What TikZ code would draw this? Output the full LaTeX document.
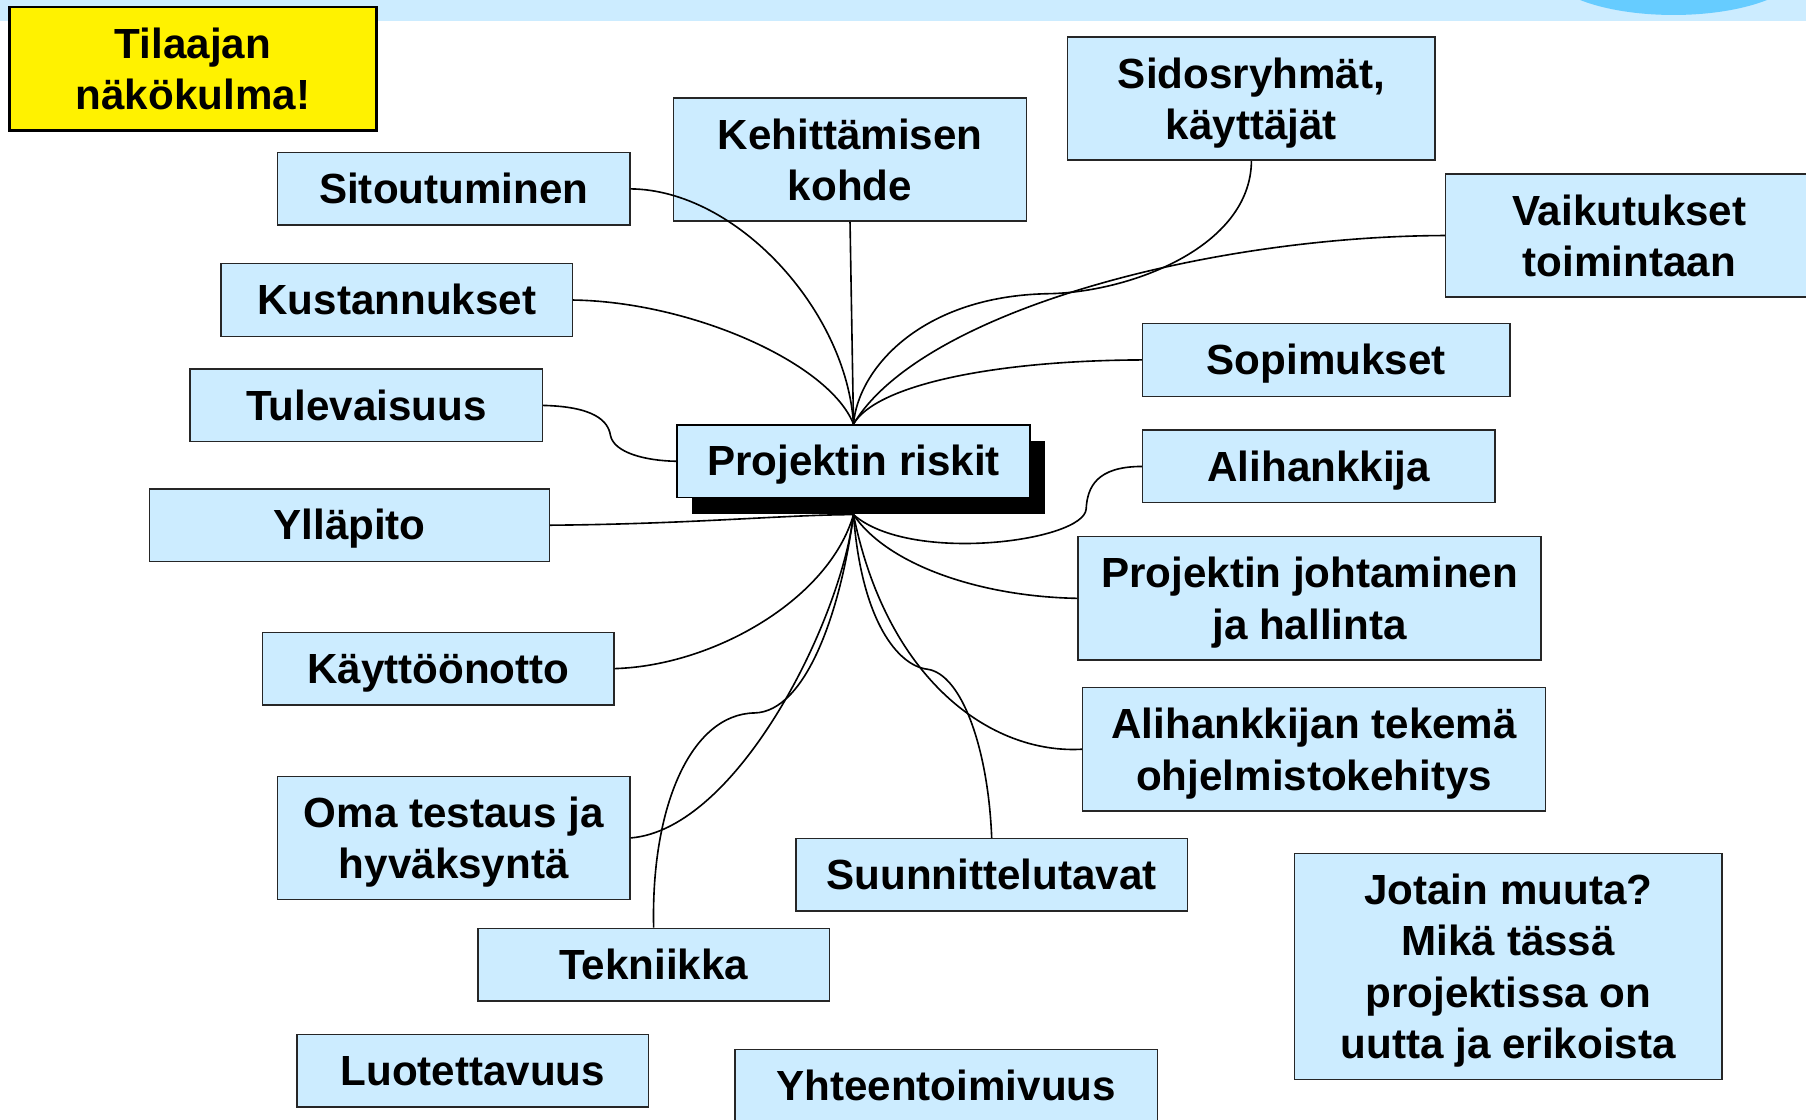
\documentclass[tikz,border=0pt]{standalone}
\usepackage{fontspec}
\setmainfont{Liberation Sans}
\usetikzlibrary{shadows}
\definecolor{boxblue}{HTML}{CCECFF}
\definecolor{bubbleblue}{HTML}{66CCFF}
\pgfdeclarelayer{front}
\pgfsetlayers{main,front}
\newcommand{\tstrut}{\rule[-0.212em]{0pt}{1.117em}}
\tikzset{
  riskbox/.style={draw=black!85, line width=0.6pt, fill=boxblue, align=center, inner sep=0pt,
    font=\fontsize{18.3}{22.3}\selectfont\bfseries},
  oneline/.style={riskbox, execute at begin node=\tstrut, execute at end node=\tstrut},
  multiline/.style={riskbox, text depth=0pt},
  boxsize/.style 2 args={minimum width=#1*0.5pt, minimum height=#2*0.5pt},
  link/.style={line width=0.7pt},
}
\begin{document}
\begin{tikzpicture}[x=0.5pt,y=-0.5pt]
  \useasboundingbox (0,0) rectangle (1568,972);
  \clip (0,0) rectangle (1568,972);
  % band and bubble at the top edge
  \fill[boxblue] (0,0) rectangle (1568,18);
  \fill[bubbleblue] (1453,-27) ellipse [x radius=110, y radius=40];
  % note box
  \node[multiline, fill=yellow, draw=black, line width=1.2pt, boxsize={319}{107}] (tilaaja) at (167.5,59.5) {Tilaajan\\näkökulma!};
  % centre, kept on the front layer so the shadow hides the curve ends
  \begin{pgfonlayer}{front}
    \node[oneline, draw=black, line width=0.8pt, boxsize={306}{63},
      drop shadow={shadow xshift=6.5pt, shadow yshift=-7pt, fill=black, opacity=1}] (riskit) at (741,400.5) {Projektin riskit};
  \end{pgfonlayer}
  \coordinate (hubS) at ([yshift=-7pt]riskit.south);
  % one-line boxes
  \foreach \name/\x/\y/\w/\txt in {sitout/394/164/306/Sitoutuminen, kust/344.5/260.5/305/Kustannukset,
      sopim/1151.5/312.5/319/Sopimukset, tulev/318/352/306/Tulevaisuus, alih/1145/405/306/Alihankkija,
      yllapito/303.5/456/347/Ylläpito, kaytto/380.5/580.5/305/Käyttöönotto, suunn/861/759.5/340/Suunnittelutavat,
      tekn/567.5/837.5/305/Tekniikka, luot/410.5/929.5/305/Luotettavuus, yhteen/821.5/942.5/367/Yhteentoimivuus}
    { \node[oneline, boxsize={\w}{63}] (\name) at (\x,\y) {\txt}; }
  % boxes with more lines
  \node[multiline, boxsize={306}{107}] (kehitys) at (738,138.5) {Kehittämisen\\kohde};
  \node[multiline, boxsize={319}{107}] (sidos) at (1086.5,85.5) {Sidosryhmät,\\käyttäjät};
  \node[multiline, boxsize={319}{107}] (vaik) at (1414.5,204.5) {Vaikutukset\\toimintaan};
  \node[multiline, boxsize={402}{107}] (johto) at (1137,519.5) {Projektin johtaminen\\ja hallinta};
  \node[multiline, boxsize={402}{107}] (alitek) at (1141,650.5) {Alihankkijan tekemä\\ohjelmistokehitys};
  \node[multiline, boxsize={306}{107}] (testaus) at (394,727.5) {Oma testaus ja\\hyväksyntä};
  \node[multiline, boxsize={371}{196}] (muuta) at (1309.5,839) {Jotain muuta?\\Mikä tässä\\projektissa on\\uutta ja erikoista};
  % curves into the top of the centre box
  \draw[link] (sitout.east) .. controls (640,165) and (735,270) .. (riskit.north);
  \draw[link] (kehitys.south) -- (riskit.north);
  \draw[link] (kust.east) .. controls (600,262) and (720,315) .. (riskit.north);
  \draw[link] (sidos.south) .. controls (1086,215) and (980,254) .. (910,255)
    .. controls (800,257) and (745,320) .. (riskit.north);
  \draw[link] (vaik.west) .. controls (1050,205) and (800,270) .. (riskit.north);
  \draw[link] (sopim.west) .. controls (860,313) and (760,335) .. (riskit.north);
  \draw[link] (tulev.east) .. controls (515,353) and (528,365) .. (530,378)
    .. controls (533,393) and (560,400) .. (riskit.west);
  % curves into the bottom of the shadow
  \draw[link] (yllapito.east) .. controls (600,455) and (680,447) .. (hubS);
  \draw[link] (alih.west) .. controls (952,405) and (944,423) .. (943,442)
    .. controls (941,470) and (790,490) .. (hubS);
  \draw[link] (johto.west) .. controls (850,518) and (770,490) .. (hubS);
  \draw[link] (kaytto.east) .. controls (620,578) and (720,520) .. (hubS);
  \draw[link] (alitek.west) .. controls (860,655) and (770,590) .. (hubS);
  \draw[link] (testaus.east) .. controls (640,720) and (730,540) .. (hubS);
  \draw[link] (suunn.north) .. controls (858,650) and (835,585) .. (805,581)
    .. controls (780,578) and (748,540) .. (hubS);
  \draw[link] (tekn.north) .. controls (565,700) and (600,620) .. (655,619)
    .. controls (700,618) and (730,530) .. (hubS);
\end{tikzpicture}
\end{document}
